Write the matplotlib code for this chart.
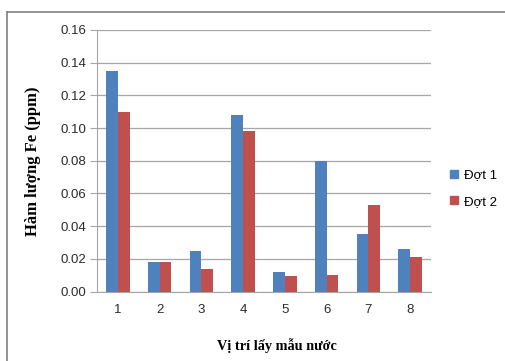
import matplotlib
matplotlib.use("Agg")
import matplotlib.pyplot as plt
from matplotlib.lines import Line2D
import numpy as np

categories = ["1", "2", "3", "4", "5", "6", "7", "8"]
dot1 = [0.135, 0.018, 0.025, 0.108, 0.012, 0.080, 0.035, 0.026]
dot2 = [0.110, 0.018, 0.014, 0.098, 0.0095, 0.010, 0.053, 0.021]
series_names = ["Đợt 1", "Đợt 2"]
yticks = [0.00, 0.02, 0.04, 0.06, 0.08, 0.10, 0.12, 0.14, 0.16]

W, H = 505, 361
fig = plt.figure(figsize=(W / 100, H / 100), dpi=100)
ax = fig.add_axes([97 / W, 1 - 291.5 / H, (431 - 97) / W, (291.5 - 30) / H])

x = np.arange(len(categories))
bw = 0.28
c1 = "#4F81BD"
c2 = "#C0504D"
ax.bar(x - bw / 2, dot1, width=bw, color=c1, label=series_names[0], zorder=3)
ax.bar(x + bw / 2, dot2, width=bw, color=c2, label=series_names[1], zorder=3)

ax.set_xlim(-0.5, len(categories) - 0.5)
ax.set_ylim(0, 0.16)
ax.set_yticks(yticks)
ax.set_yticklabels([f"{v:.2f}" for v in yticks])
ax.set_xticks(x)
ax.set_xticklabels(categories)

for lab in ax.get_xticklabels() + ax.get_yticklabels():
    lab.set_fontfamily("Liberation Sans")
    lab.set_fontsize(9.5)
    lab.set_color("#2b2b2b")

ax.yaxis.grid(True, color="#A6A6A6", linewidth=0.9, zorder=0)
ax.set_axisbelow(True)
for s in ["top", "right"]:
    ax.spines[s].set_visible(False)
ax.spines["left"].set_color("#A6A6A6")
ax.spines["bottom"].set_color("#A6A6A6")
ax.tick_params(axis="y", length=5, color="#A6A6A6", pad=3)
ax.tick_params(axis="x", length=0, pad=9)

ax.set_ylabel("Hàm lượng Fe (ppm)", fontfamily="Liberation Serif",
              fontweight="bold", fontsize=12, labelpad=14)
fig.text(277 / W, 1 - 346 / H, "Vị trí lấy mẫu nước", fontfamily="Liberation Serif",
         fontweight="bold", fontsize=10.3, ha="center", va="center")

leg = fig.legend(handles=[
    Line2D([], [], marker="s", linestyle="none", markersize=6, color=c1, label=series_names[0]),
    Line2D([], [], marker="s", linestyle="none", markersize=6, color=c2, label=series_names[1]),
], loc="center left", bbox_to_anchor=(437 / W, 1 - 188.5 / H), frameon=False,
    prop={"family": "Liberation Sans", "size": 9.5}, handlelength=0.8,
    handletextpad=0.35, labelspacing=1.1)

# outer chart frame
fig.add_artist(Line2D([6.5 / W, 1], [1 - 12 / H, 1 - 12 / H], transform=fig.transFigure,
                      color="#808080", linewidth=1.2))
fig.add_artist(Line2D([6.5 / W, 6.5 / W], [0, 1 - 12 / H], transform=fig.transFigure,
                      color="#808080", linewidth=1.2))

fig.savefig("out.png", dpi=100)
